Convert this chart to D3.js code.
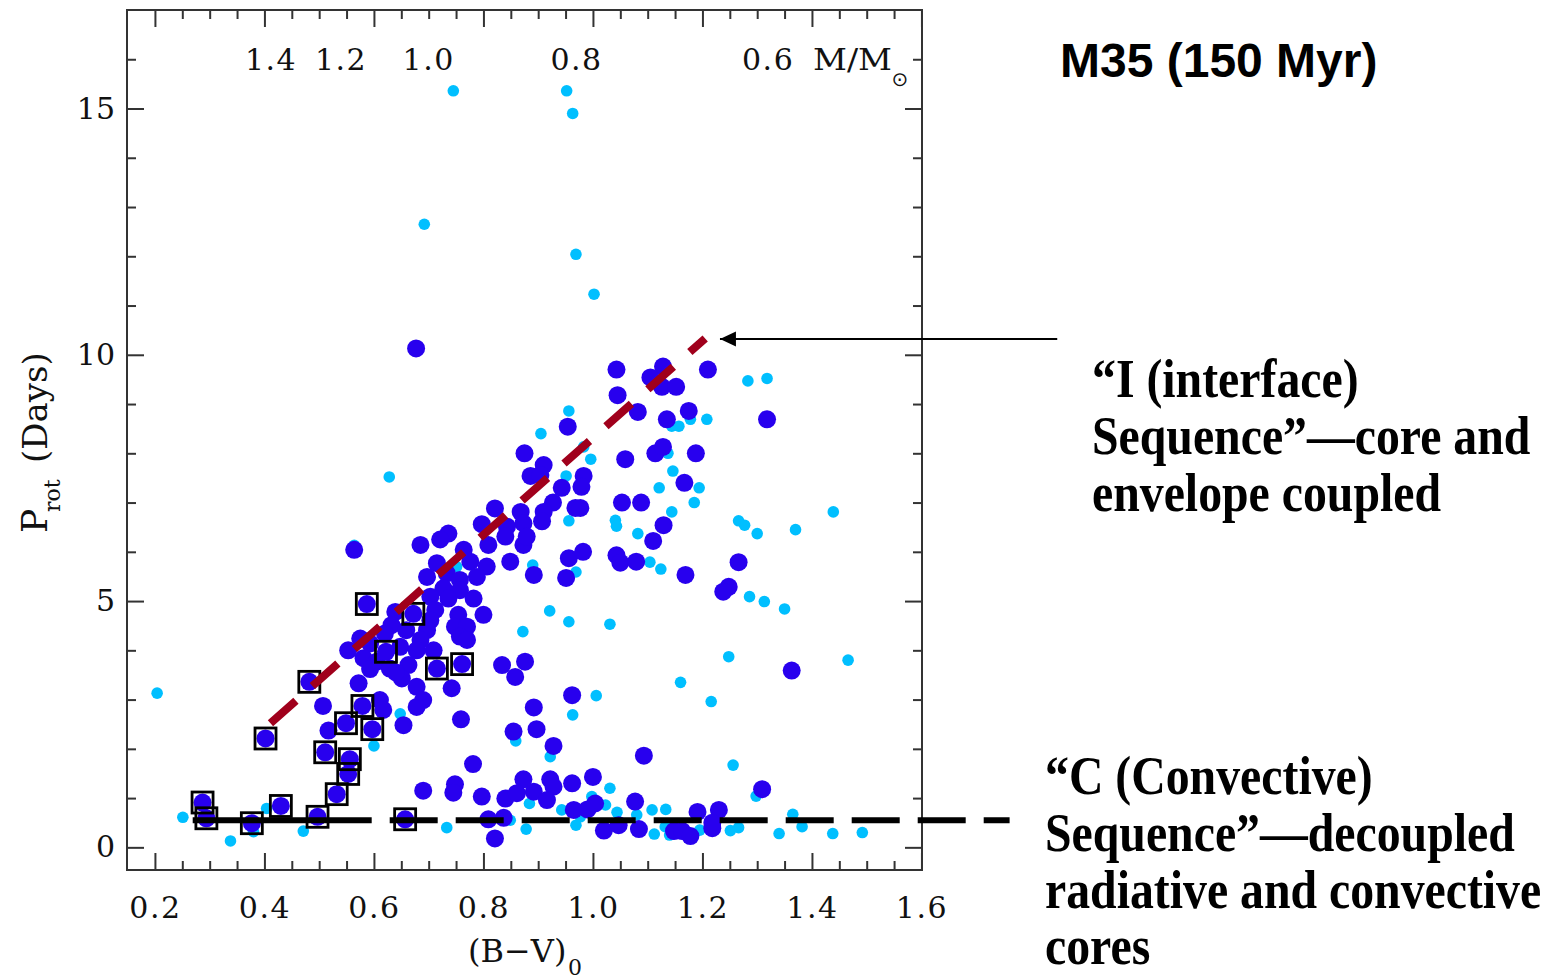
<!DOCTYPE html>
<html>
<head>
<meta charset="utf-8">
<script src="https://cdn.jsdelivr.net/npm/d3@7"></script>
<style>
  body { margin: 0; background: #fff; }
</style>
</head>
<body>
<script>
// [B-V, Prot]
const lightStars = [
  [0.745, 15.36], [0.692, 12.65], [0.952, 15.36], [0.963, 14.90], [0.969, 12.04], [1.002, 11.23],
  [0.628, 7.52], [0.564, 6.13], [0.751, 5.70],
  [1.283, 9.47], [1.318, 9.52], [0.956, 8.86], [0.905, 8.40], [1.208, 8.69], [1.144, 8.55],
  [1.157, 8.55], [1.178, 8.69], [1.137, 8.00], [0.996, 7.88], [1.146, 7.64], [0.951, 7.54],
  [1.121, 7.30], [1.194, 7.30], [1.185, 7.00], [1.144, 6.81], [0.956, 6.63], [1.041, 6.64],
  [1.043, 6.52], [1.082, 6.37], [1.266, 6.63], [1.277, 6.54], [1.300, 6.37], [1.370, 6.45],
  [1.439, 6.81], [0.890, 5.73], [0.969, 5.59], [1.104, 5.79], [1.124, 5.65], [1.286, 5.09],
  [1.313, 4.99], [1.350, 4.84], [0.921, 4.80], [0.956, 4.58], [1.031, 4.53], [0.872, 4.38],
  [0.983, 8.13],
  [1.248, 3.87], [1.466, 3.80], [1.160, 3.35], [1.006, 3.08], [1.216, 2.96], [0.963, 2.69],
  [0.859, 2.16], [0.922, 1.84], [1.256, 1.67], [1.031, 1.20], [1.298, 1.04], [0.884, 0.89],
  [0.943, 0.76], [0.998, 1.03], [1.023, 0.86], [1.044, 0.71], [1.108, 0.76], [1.133, 0.77],
  [1.080, 0.66], [1.365, 0.67], [0.849, 0.55], [0.878, 0.37], [0.969, 0.45], [1.112, 0.27],
  [1.140, 0.25], [1.132, 0.42], [1.195, 0.35], [1.251, 0.34], [1.266, 0.40], [1.340, 0.28],
  [1.382, 0.42], [1.438, 0.28], [1.492, 0.30], [0.977, 0.62],
  [0.204, 3.13], [0.251, 0.61], [0.338, 0.13], [0.380, 0.32], [0.404, 0.79], [0.471, 0.33],
  [0.600, 2.06], [0.648, 2.71], [0.733, 0.40],
];

const darkStars = [
  [0.564, 6.04], [0.685, 6.14], [0.764, 6.04], [0.809, 6.14], [0.849, 5.80], [0.873, 6.14],
  [0.715, 5.77], [0.697, 5.49], [0.733, 5.56], [0.776, 5.80], [0.806, 5.70], [0.788, 5.49],
  [0.757, 5.43], [0.727, 5.26], [0.757, 5.22], [0.736, 5.05], [0.782, 5.05], [0.703, 5.09],
  [0.712, 4.82], [0.754, 4.72], [0.800, 4.72], [0.639, 4.78], [0.703, 4.61], [0.748, 4.48],
  [0.770, 4.48], [0.757, 4.28], [0.770, 4.21], [0.632, 4.51], [0.659, 4.41], [0.697, 4.41],
  [0.685, 4.21], [0.620, 4.34], [0.575, 4.24], [0.553, 4.00], [0.593, 4.14], [0.648, 4.07],
  [0.678, 4.00], [0.709, 4.00], [0.581, 3.84], [0.605, 3.77], [0.629, 3.63], [0.663, 3.70],
  [0.651, 3.43], [0.834, 3.70], [0.876, 3.77], [0.858, 3.46], [0.572, 3.33], [0.678, 3.26],
  [0.742, 3.23], [0.690, 2.99], [0.611, 2.99], [0.593, 3.62], [0.640, 3.55],
  [0.677, 10.13], [0.821, 6.88], [0.797, 6.56], [0.736, 6.37], [0.721, 6.25],
  [1.043, 9.70], [1.128, 9.76], [1.105, 9.54], [1.126, 9.35], [1.152, 9.35], [1.210, 9.70],
  [1.045, 9.18], [1.082, 8.84], [1.175, 8.86], [1.135, 8.69], [1.318, 8.69], [0.954, 8.54],
  [0.875, 8.00], [0.910, 7.76], [0.886, 7.54], [0.904, 7.56], [0.983, 7.54], [0.979, 7.32],
  [0.943, 7.30], [1.059, 7.88], [1.114, 8.00], [1.128, 8.13], [1.188, 8.00], [1.167, 7.40],
  [0.927, 7.00], [0.910, 6.81], [0.907, 6.62], [0.868, 6.81], [0.843, 6.51], [0.873, 6.58],
  [0.879, 6.31], [0.840, 6.31], [0.968, 6.89], [0.977, 6.89], [1.053, 7.00], [1.088, 7.00],
  [1.129, 6.54], [1.110, 6.22], [0.892, 5.53], [0.956, 5.87], [0.982, 6.00], [0.951, 5.47],
  [1.043, 5.93], [1.050, 5.78], [1.079, 5.80], [1.169, 5.53], [1.266, 5.79], [1.248, 5.29],
  [1.238, 5.19],
  [0.507, 2.87], [0.517, 2.37], [0.617, 2.79], [0.654, 2.48], [0.678, 2.85], [0.759, 2.60],
  [0.781, 1.69], [0.690, 1.15], [0.748, 1.28], [0.745, 1.11], [0.797, 1.03], [0.840, 0.99],
  [0.809, 0.57], [0.837, 0.60], [0.821, 0.18],
  [0.962, 3.09], [0.892, 2.84], [0.855, 2.35], [0.897, 2.40], [0.928, 2.06], [1.093, 1.86],
  [1.363, 3.59], [1.309, 1.18], [0.873, 1.38], [0.922, 1.38], [0.928, 1.23], [0.962, 1.30],
  [1.000, 1.43], [0.861, 1.10], [0.892, 1.13], [0.916, 0.96], [0.965, 0.76], [0.990, 0.77],
  [1.004, 0.89], [1.077, 0.93], [1.191, 0.72], [1.230, 0.76], [1.020, 0.34], [1.047, 0.45],
  [1.084, 0.37], [1.148, 0.33], [1.163, 0.33], [1.178, 0.23], [1.218, 0.39], [1.218, 0.50],
];

const boxedStars = [
  [0.287, 0.91], [0.294, 0.59], [0.377, 0.49], [0.430, 0.84], [0.497, 0.62], [0.657, 0.57],
  [0.402, 2.21], [0.482, 3.36], [0.511, 1.93], [0.532, 1.08], [0.553, 1.49], [0.556, 1.79],
  [0.549, 2.52], [0.579, 2.87], [0.597, 2.40], [0.622, 3.97], [0.715, 3.63], [0.761, 3.72],
  [0.587, 4.94], [0.672, 4.74],
];

const iSequence = [[0.411, 2.52], [1.205, 10.33]];
const cSequence = [[0.269, 0.55], [1.761, 0.55]];
const arrowLine = [[1.848, 10.32], [1.232, 10.32]];

const xMajor = [0.2, 0.4, 0.6, 0.8, 1.0, 1.2, 1.4, 1.6];
const yMajor = [0, 5, 10, 15];
const massLabels = ['1.4', '1.2', '1.0', '0.8', '0.6'];
const massBV = [0.412, 0.540, 0.700, 0.970, 1.320];

const svg = d3.select('body')
  .append('svg')
  .attr('width', 1549)
  .attr('height', 979);

const plotLeft = 127;
const plotRight = 922;
const plotTop = 10;
const plotBottom = 870;

const x = d3.scaleLinear().domain([0.149, 1.601]).range([plotLeft, plotRight]);
const y = d3.scaleLinear().domain([-0.46, 17.0]).range([plotBottom, plotTop]);

const xMinor = d3.range(4, 32).map((i) => i * 0.05).filter((v) => Math.abs(v / 0.2 - Math.round(v / 0.2)) > 0.01);
const yMinor = d3.range(0, 17).filter((v) => v % 5 !== 0);

const tickFont = 'DejaVu Serif, serif';

function styleAxis(g) {
  g.select('.domain').remove();
  g.selectAll('.tick line').attr('stroke', '#333').attr('stroke-width', 2);
  g.selectAll('.tick text')
    .attr('fill', '#111')
    .attr('font-family', tickFont)
    .attr('font-size', 30);
}

// bottom
svg.append('g').attr('transform', `translate(0, ${plotBottom})`)
  .call(d3.axisBottom(x).tickValues(xMajor).tickSize(-17).tickPadding(27).tickFormat(d3.format('.1f')))
  .call(styleAxis)
  .selectAll('.tick text').attr('letter-spacing', 1.5);
svg.append('g').attr('transform', `translate(0, ${plotBottom})`)
  .call(d3.axisBottom(x).tickValues(xMinor).tickSize(-9).tickFormat(''))
  .call(styleAxis);
// top
svg.append('g').attr('transform', `translate(0, ${plotTop})`)
  .call(d3.axisTop(x).tickValues(xMajor).tickSize(-17).tickFormat(''))
  .call(styleAxis);
svg.append('g').attr('transform', `translate(0, ${plotTop})`)
  .call(d3.axisTop(x).tickValues(xMinor).tickSize(-9).tickFormat(''))
  .call(styleAxis);
// left
svg.append('g').attr('transform', `translate(${plotLeft}, 0)`)
  .call(d3.axisLeft(y).tickValues(yMajor).tickSize(-17).tickPadding(12).tickFormat(d3.format('d')))
  .call(styleAxis);
svg.append('g').attr('transform', `translate(${plotLeft}, 0)`)
  .call(d3.axisLeft(y).tickValues(yMinor).tickSize(-9).tickFormat(''))
  .call(styleAxis);
// right
svg.append('g').attr('transform', `translate(${plotRight}, 0)`)
  .call(d3.axisRight(y).tickValues(yMajor).tickSize(-17).tickFormat(''))
  .call(styleAxis);
svg.append('g').attr('transform', `translate(${plotRight}, 0)`)
  .call(d3.axisRight(y).tickValues(yMinor).tickSize(-9).tickFormat(''))
  .call(styleAxis);

svg.append('rect')
  .attr('x', plotLeft)
  .attr('y', plotTop)
  .attr('width', plotRight - plotLeft)
  .attr('height', plotBottom - plotTop)
  .attr('fill', 'none')
  .attr('stroke', '#333')
  .attr('stroke-width', 2);

// mass scale along the top
svg.append('g')
  .selectAll('text')
  .data(massLabels)
  .join('text')
  .attr('x', (d, i) => x(massBV[i]))
  .attr('y', 70)
  .attr('text-anchor', 'middle')
  .attr('font-family', tickFont)
  .attr('font-size', 30)
  .attr('letter-spacing', 1.5)
  .attr('fill', '#111')
  .text((d) => d);

svg.append('text')
  .attr('x', 813)
  .attr('y', 70)
  .attr('font-family', tickFont)
  .attr('font-size', 30)
  .attr('fill', '#111')
  .attr('textLength', 79)
  .attr('lengthAdjust', 'spacingAndGlyphs')
  .text('M/M');
svg.append('text')
  .attr('x', 900)
  .attr('y', 86)
  .attr('text-anchor', 'middle')
  .attr('font-family', 'DejaVu Sans, sans-serif')
  .attr('font-size', 20)
  .attr('fill', '#111')
  .text('⊙');

// axis titles
svg.append('text')
  .attr('x', 468)
  .attr('y', 962)
  .attr('font-family', tickFont)
  .attr('font-size', 32)
  .attr('fill', '#111')
  .text('(B−V)')
  .append('tspan')
  .attr('x', 568)
  .attr('y', 975)
  .attr('font-size', 22)
  .text('0');

const yTitle = svg.append('text')
  .attr('transform', 'translate(47, 533) rotate(-90)')
  .attr('font-family', tickFont)
  .attr('fill', '#111');
yTitle.append('tspan').attr('x', 0).attr('y', 0).attr('font-size', 36).text('P');
yTitle.append('tspan').attr('x', 21).attr('y', 13).attr('font-size', 22).text('rot');
yTitle.append('tspan').attr('x', 70).attr('y', 0).attr('font-size', 34).text('(Days)');

// stars
svg.append('g')
  .selectAll('circle')
  .data(lightStars)
  .join('circle')
  .attr('cx', (d) => x(d[0]))
  .attr('cy', (d) => y(d[1]))
  .attr('r', 5.8)
  .attr('fill', '#00bfff');

svg.append('g')
  .selectAll('circle')
  .data(darkStars.concat(boxedStars))
  .join('circle')
  .attr('cx', (d) => x(d[0]))
  .attr('cy', (d) => y(d[1]))
  .attr('r', 9)
  .attr('fill', '#2800ee');

svg.append('g')
  .selectAll('rect')
  .data(boxedStars)
  .join('rect')
  .attr('x', (d) => x(d[0]) - 10.5)
  .attr('y', (d) => y(d[1]) - 10.5)
  .attr('width', 21)
  .attr('height', 21)
  .attr('fill', 'none')
  .attr('stroke', '#000')
  .attr('stroke-width', 2.8);

const line = d3.line().x((d) => x(d[0])).y((d) => y(d[1]));

const cDash = [179, 18].concat(d3.range(12).flatMap(() => [48, 18]));
svg.append('path')
  .attr('d', line(cSequence))
  .attr('fill', 'none')
  .attr('stroke', '#000')
  .attr('stroke-width', 6)
  .attr('stroke-dasharray', cDash.join(' '));

svg.append('path')
  .attr('d', line(iSequence))
  .attr('fill', 'none')
  .attr('stroke', '#a0001c')
  .attr('stroke-width', 8)
  .attr('stroke-dasharray', '34 22');

svg.append('defs')
  .append('marker')
  .attr('id', 'head')
  .attr('markerUnits', 'userSpaceOnUse')
  .attr('markerWidth', 17)
  .attr('markerHeight', 16)
  .attr('refX', 16)
  .attr('refY', 8)
  .attr('orient', 'auto')
  .append('path')
  .attr('d', 'M0,0.5 L16,8 L0,15.5 Z')
  .attr('fill', '#000');

svg.append('path')
  .attr('d', line(arrowLine))
  .attr('fill', 'none')
  .attr('stroke', '#000')
  .attr('stroke-width', 2)
  .attr('marker-end', 'url(#head)');

// title and notes
svg.append('text')
  .attr('x', 1060)
  .attr('y', 77)
  .attr('font-family', 'Liberation Sans, Arial, sans-serif')
  .attr('font-weight', 'bold')
  .attr('font-size', 48)
  .attr('fill', '#000')
  .text('M35 (150 Myr)');

function note(lines, x0, baselines) {
  svg.append('g')
    .selectAll('text')
    .data(lines)
    .join('text')
    .attr('transform', (d, i) => `translate(${x0}, ${baselines[i]}) scale(0.885, 1)`)
    .attr('font-family', 'Liberation Serif, Times New Roman, serif')
    .attr('font-weight', 'bold')
    .attr('font-size', 54)
    .attr('fill', '#000')
    .text((d) => d);
}

note(['“I (interface)', 'Sequence”—core and', 'envelope coupled'], 1092, [397, 454, 511]);
note(['“C (Convective)', 'Sequence”—decoupled', 'radiative and convective', 'cores'], 1045, [794, 851, 908, 964]);
</script>
</body>
</html>
